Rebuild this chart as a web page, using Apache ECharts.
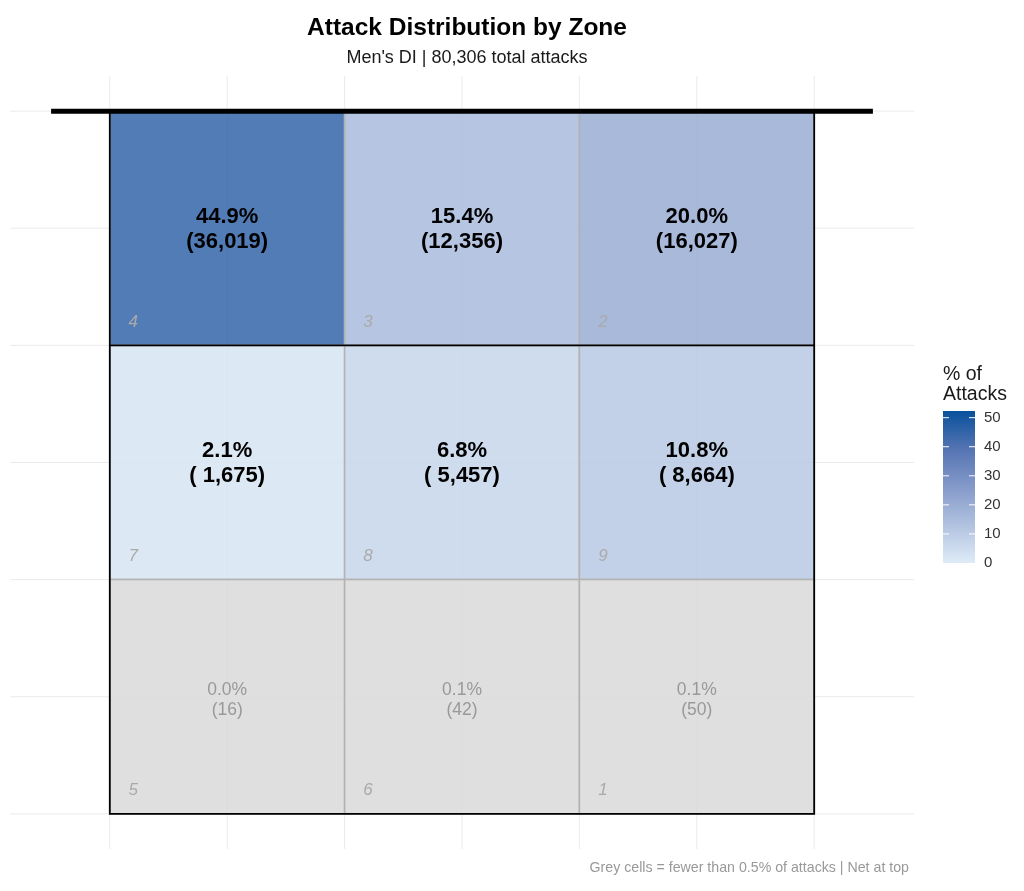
<!DOCTYPE html>
<html>
<head>
<meta charset="utf-8">
<title>Attack Distribution by Zone</title>
<script src="https://cdn.jsdelivr.net/npm/echarts@6.0.0/dist/echarts.min.js"></script>
<style>
  html, body { margin: 0; padding: 0; background: #fff; }
  #chart { width: 1024px; height: 891px; }
</style>
</head>
<body>
<div id="chart"></div>
<script>
// zone layout, net at top: front row 4-3-2, middle 7-8-9, back 5-6-1
var zones   = [4, 3, 2, 7, 8, 9, 5, 6, 1];
var colIdx  = [0, 1, 2, 0, 1, 2, 0, 1, 2];
var rowIdx  = [2, 2, 2, 1, 1, 1, 0, 0, 0];
var counts  = [36019, 12356, 16027, 1675, 5457, 8664, 16, 42, 50];
var pcts    = [44.9, 15.4, 20.0, 2.1, 6.8, 10.8, 0.0, 0.1, 0.1];
var totalAttacks = 80306;

// grid breaks (major + minor) on both axes
var gridX = [0, 0.5, 1, 1.5, 2, 2.5, 3];
var gridY = [0, 0.5, 1, 1.5, 2, 2.5, 3];

// colour bar
var legendTicks = [0, 10, 20, 30, 40, 50];
var legendMax = 52.3;
var legendColors = ['#deebf7', '#b1c2e0', '#849ac9', '#5574b3', '#08519c'];

var GREY_CUTOFF = 0.5;
var FONT = '"Liberation Sans", Arial, Helvetica, sans-serif';

// court geometry
var COURT = { x0: 0, x1: 3, y0: 0, y1: 3, attackY: 2, netX0: -0.25, netX1: 3.25 };

function fmtN(n) {
    return n.toLocaleString('en-US');
}
function padN(s, w) {
    while (s.length < w) s = ' ' + s;
    return s;
}

var cellData = [];
for (var i = 0; i < zones.length; i++) {
    cellData.push([colIdx[i], rowIdx[i], pcts[i], counts[i], zones[i]]);
}

function renderGridV(params, api) {
    var cs = params.coordSys;
    var p = api.coord([api.value(0), 0]);
    return {
        type: 'line',
        shape: { x1: p[0], y1: cs.y, x2: p[0], y2: cs.y + cs.height },
        style: { stroke: '#ebebeb', lineWidth: 1 }
    };
}
function renderGridH(params, api) {
    var cs = params.coordSys;
    var p = api.coord([0, api.value(0)]);
    return {
        type: 'line',
        shape: { x1: cs.x, y1: p[1], x2: cs.x + cs.width, y2: p[1] },
        style: { stroke: '#ebebeb', lineWidth: 1 }
    };
}

function renderCell(params, api) {
    var c = api.value(0), r = api.value(1);
    var pct = api.value(2), n = api.value(3), zone = api.value(4);
    var p0 = api.coord([c, r + 1]);
    var p1 = api.coord([c + 1, r]);
    var zp = api.coord([c + 0.1, r + 0.1]);
    var grey = pct < GREY_CUTOFF;
    var label;
    if (grey) {
        label = pct.toFixed(1) + '%\n(' + fmtN(n) + ')';
    } else {
        label = pct.toFixed(1) + '%\n(' + padN(fmtN(n), 6) + ')';
    }
    return {
        type: 'group',
        children: [{
            type: 'rect',
            shape: { x: p0[0], y: p0[1], width: p1[0] - p0[0], height: p1[1] - p0[1] },
            style: {
                fill: echarts.color.modifyAlpha(api.visual('color'), 0.85),
                stroke: '#b3b3b3',
                lineWidth: 1.5
            }
        }, {
            type: 'text',
            x: (p0[0] + p1[0]) / 2,
            y: (p0[1] + p1[1]) / 2 + (grey ? 3.5 : 1),
            style: {
                text: label,
                fill: grey ? '#999999' : '#000000',
                fontSize: grey ? 17.5 : 22,
                fontWeight: grey ? 'normal' : 'bold',
                fontFamily: FONT,
                lineHeight: grey ? 20 : 25,
                align: 'center',
                verticalAlign: 'middle'
            }
        }, {
            type: 'text',
            x: zp[0],
            y: zp[1],
            style: {
                text: String(zone),
                fill: '#aaaaaa',
                fontSize: 17,
                fontStyle: 'italic',
                fontFamily: FONT,
                align: 'center',
                verticalAlign: 'middle'
            }
        }]
    };
}

function renderCourt(params, api) {
    var a = api.coord([COURT.x0, COURT.y1]);
    var b = api.coord([COURT.x1, COURT.y0]);
    var al = api.coord([COURT.x0, COURT.attackY]);
    var ar = api.coord([COURT.x1, COURT.attackY]);
    var nl = api.coord([COURT.netX0, COURT.y1]);
    var nr = api.coord([COURT.netX1, COURT.y1]);
    return {
        type: 'group',
        children: [{
            type: 'rect',
            shape: { x: a[0], y: a[1], width: b[0] - a[0], height: b[1] - a[1] },
            style: { fill: 'none', stroke: '#000', lineWidth: 1.8 }
        }, {
            type: 'line',
            shape: { x1: al[0], y1: al[1], x2: ar[0], y2: ar[1] },
            style: { stroke: '#000', lineWidth: 1.8 }
        }, {
            type: 'line',
            shape: { x1: nl[0], y1: nl[1], x2: nr[0], y2: nr[1] },
            style: { stroke: '#000', lineWidth: 5 }
        }]
    };
}

// colour bar with white ticks on both edges
function renderLegendBar(params, api) {
    var p0 = api.coord([0, api.value(1)]);
    var p1 = api.coord([1, api.value(0)]);
    var stops = legendColors.map(function (c, k) {
        return { offset: k / (legendColors.length - 1), color: c };
    });
    var children = [{
        type: 'rect',
        shape: { x: p0[0], y: p0[1], width: p1[0] - p0[0], height: p1[1] - p0[1] },
        style: { fill: new echarts.graphic.LinearGradient(0, 1, 0, 0, stops) }
    }];
    var tickLen = 6;
    legendTicks.forEach(function (t) {
        if (t <= api.value(0)) return;
        var y = api.coord([0, t])[1];
        children.push({
            type: 'line',
            shape: { x1: p0[0], y1: y, x2: p0[0] + tickLen, y2: y },
            style: { stroke: '#ffffff', lineWidth: 1 }
        });
        children.push({
            type: 'line',
            shape: { x1: p1[0] - tickLen, y1: y, x2: p1[0], y2: y },
            style: { stroke: '#ffffff', lineWidth: 1 }
        });
    });
    return { type: 'group', children: children };
}

var myChart = echarts.init(document.getElementById('chart'), null, { renderer: 'canvas' });

var option = {
    backgroundColor: '#ffffff',
    animation: false,
    title: [{
        text: 'Attack Distribution by Zone',
        left: 462, top: 11, textAlign: 'center',
        textStyle: { fontSize: 24.5, fontWeight: 'bold', color: '#000', fontFamily: FONT }
    }, {
        text: "Men's DI | " + fmtN(totalAttacks) + ' total attacks',
        left: 462, top: 44, textAlign: 'center',
        textStyle: { fontSize: 18, fontWeight: 'normal', color: '#1a1a1a', fontFamily: FONT }
    }, {
        text: 'Grey cells = fewer than 0.5% of attacks | Net at top',
        right: 110, top: 856,
        textStyle: { fontSize: 14.2, fontWeight: 'normal', color: '#999999', fontFamily: FONT }
    }],
    graphic: [{
        type: 'text',
        left: 943, top: 365,
        style: {
            text: '% of\nAttacks',
            fontSize: 19.5, lineHeight: 20, fill: '#1a1a1a', fontFamily: FONT
        }
    }],
    grid: [
        { left: 10, right: 110, top: 76, bottom: 42 },
        { left: 943, top: 411, width: 32, height: 152 }
    ],
    xAxis: [{
        type: 'value', gridIndex: 0, min: -0.425, max: 3.425, show: false
    }, {
        type: 'value', gridIndex: 1, min: 0, max: 1, show: false
    }],
    yAxis: [{
        type: 'value', gridIndex: 0, min: -0.15, max: 3.15, show: false
    }, {
        type: 'value', gridIndex: 1, position: 'right', min: 0, max: legendMax,
        axisLine: { show: false },
        splitLine: { show: false },
        axisTick: { show: false },
        axisLabel: { color: '#333', fontSize: 15, margin: 9, fontFamily: FONT, customValues: legendTicks }
    }],
    visualMap: {
        show: false,
        type: 'continuous',
        seriesIndex: 2,
        dimension: 2,
        min: 0,
        max: legendMax,
        range: [GREY_CUTOFF, legendMax],
        inRange: { color: legendColors },
        outOfRange: { color: ['#d9d9d9'] }
    },
    series: [{
        type: 'custom', name: 'gridV', xAxisIndex: 0, yAxisIndex: 0, z: 1, silent: true,
        renderItem: renderGridV,
        data: gridX.map(function (v) { return [v]; })
    }, {
        type: 'custom', name: 'gridH', xAxisIndex: 0, yAxisIndex: 0, z: 1, silent: true,
        renderItem: renderGridH,
        data: gridY.map(function (v) { return [v]; })
    }, {
        type: 'custom', name: 'zones', xAxisIndex: 0, yAxisIndex: 0, z: 2,
        renderItem: renderCell,
        encode: { x: 0, y: 1 },
        data: cellData
    }, {
        type: 'custom', name: 'court', xAxisIndex: 0, yAxisIndex: 0, z: 3, silent: true,
        renderItem: renderCourt,
        data: [[0, 0]]
    }, {
        type: 'custom', name: 'legendBar', xAxisIndex: 1, yAxisIndex: 1, z: 2, silent: true,
        renderItem: renderLegendBar,
        data: [[0, legendMax]]
    }]
};

myChart.setOption(option);
window.addEventListener('resize', function () {
    myChart.resize();
});
</script>
</body>
</html>
